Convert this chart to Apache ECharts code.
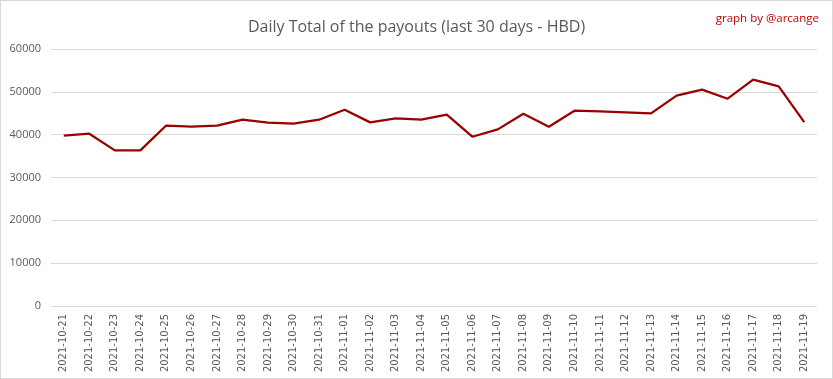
<!DOCTYPE html>
<html><head><meta charset="utf-8">
<script src="https://cdn.jsdelivr.net/npm/echarts@6/dist/echarts.min.js"></script>
<style>html,body{margin:0;padding:0;background:#fff}#c{width:833px;height:379px;box-sizing:border-box;border:1px solid #d9d9d9}</style>
</head><body><div id="c"></div>
<script>
const categories = ["2021-10-21","2021-10-22","2021-10-23","2021-10-24","2021-10-25","2021-10-26","2021-10-27","2021-10-28","2021-10-29","2021-10-30","2021-10-31","2021-11-01","2021-11-02","2021-11-03","2021-11-04","2021-11-05","2021-11-06","2021-11-07","2021-11-08","2021-11-09","2021-11-10","2021-11-11","2021-11-12","2021-11-13","2021-11-14","2021-11-15","2021-11-16","2021-11-17","2021-11-18","2021-11-19"];
const payouts = [39750,40220,36320,36320,42090,41850,42090,43490,42790,42560,43490,45830,42870,43800,43490,44660,39520,41230,44890,41850,45600,45440,45210,44970,49100,50510,48400,52840,51290,42950];
const chart = echarts.init(document.getElementById('c'), null, {renderer:'canvas'});
chart.setOption({
  animation:false,
  backgroundColor:'#fff',
  title:[
    {text:'Daily Total of the payouts (last 30 days - HBD)', left:'center', top:13,
     textStyle:{fontFamily:'Open Sans', fontWeight:'normal', fontSize:16, color:'#595959'}},
    {text:'graph by @arcange', right:8, top:7,
     textStyle:{fontFamily:'Open Sans', fontWeight:'normal', fontSize:11.5, color:'#c00000'}}
  ],
  grid:{left:50, right:15, top:48, bottom:72, containLabel:false},
  xAxis:{type:'category', data:categories, boundaryGap:true,
    axisLine:{lineStyle:{color:'#d9d9d9'}}, axisTick:{show:false},
    axisLabel:{rotate:90, interval:0, fontFamily:'DejaVu Sans', fontSize:10, color:'#595959', margin:8}},
  yAxis:{type:'value', min:0, max:60000, interval:10000,
    axisLine:{show:false}, axisTick:{show:false},
    splitLine:{lineStyle:{color:'#d9d9d9'}},
    axisLabel:{fontFamily:'Open Sans', fontSize:11, color:'#595959', margin:10, formatter:function(v){return String(v);}}},
  series:[{type:'line', data:payouts, symbol:'none', lineStyle:{color:'#990000', width:2.25}, itemStyle:{color:'#990000'}}]
});
</script></body></html>
